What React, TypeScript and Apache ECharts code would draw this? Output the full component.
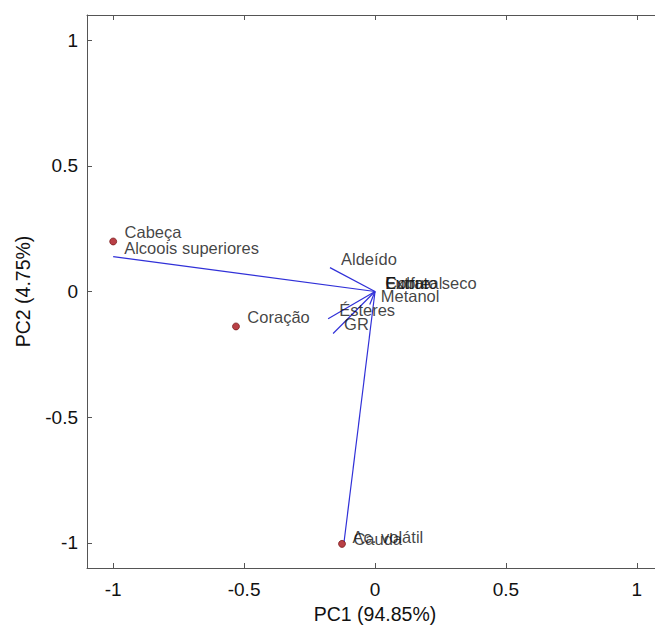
import React, { useEffect, useRef } from 'react';
import * as echarts from 'echarts';

// Observations (scores)
const obsNames = ['Cabeça', 'Coração', 'Cauda'];
const obsPC1 = [-1.0, -0.531, -0.126];
const obsPC2 = [0.199, -0.139, -1.004];

// Variables (loadings)
const varNames = ['Alcoois superiores', 'Aldeído', 'Ésteres', 'GR', 'Metanol', 'Cobre', 'Furfural', 'Extrato seco', 'Ac. volátil'];
const varPC1 = [-1.0, -0.172, -0.179, -0.16, -0.02, -0.003, -0.002, -0.004, -0.118];
const varPC2 = [0.139, 0.095, -0.108, -0.167, -0.052, -0.002, -0.003, -0.001, -0.995];

const xTicks = [-1, -0.5, 0, 0.5, 1];
const yTicks = [-1, -0.5, 0, 0.5, 1];
const xTitle = 'PC1 (94.85%)';
const yTitle = 'PC2 (4.75%)';

const FONT = '"Liberation Sans", Arial, sans-serif';
const BLUE = '#3030d8';
const FRAME = '#555555';
const TEXT = '#111111';

// label placement tweaks (style only)
const labelOffsets: Record<string, number[]> = {
  'Ac. volátil': [8, -4.5],
  Cauda: [7.5, -5],
};

export default function App() {
  const ref = useRef<HTMLDivElement>(null);

  useEffect(() => {
    if (!ref.current) return;
    const chart = echarts.init(ref.current, undefined, { renderer: 'svg' });

    const axisCommon = {
      type: 'value' as const,
      min: -1.1,
      max: 1.1,
      splitLine: { show: false },
      axisLine: { show: true, onZero: false, lineStyle: { color: FRAME, width: 1 } },
    };

    const vectorSeries = varNames.map((n, i) => ({
      type: 'line',
      name: n,
      data: [
        [0, 0],
        [varPC1[i], varPC2[i]],
      ],
      symbol: 'none',
      showSymbol: false,
      silent: true,
      z: 2,
      lineStyle: { color: BLUE, width: 1.2 },
    }));

    const withOffset = (n: string, value: number[]) =>
      labelOffsets[n] ? { name: n, value, label: { offset: labelOffsets[n] } } : { name: n, value };

    chart.setOption({
      animation: false,
      backgroundColor: '#ffffff',
      grid: { left: 87, top: 15, width: 576, height: 553, outerBoundsMode: 'none', containLabel: false },
      xAxis: [
        {
          ...axisCommon,
          position: 'bottom',
          name: xTitle,
          nameLocation: 'middle',
          nameGap: 31,
          nameTextStyle: { fontSize: 19.5, color: TEXT, fontFamily: FONT },
          axisTick: { show: true, inside: true, length: 5, customValues: xTicks, lineStyle: { color: FRAME } },
          axisLabel: { show: true, customValues: xTicks, margin: 12, fontSize: 19, color: TEXT, fontFamily: FONT },
        },
        {
          ...axisCommon,
          position: 'top',
          axisTick: { show: true, inside: true, length: 5, customValues: xTicks, lineStyle: { color: FRAME } },
          axisLabel: { show: false },
        },
      ],
      yAxis: [
        {
          ...axisCommon,
          position: 'left',
          name: yTitle,
          nameLocation: 'middle',
          nameGap: 54,
          nameRotate: 90,
          nameTextStyle: { fontSize: 19.5, color: TEXT, fontFamily: FONT },
          axisTick: { show: true, inside: true, length: 5, customValues: yTicks, lineStyle: { color: FRAME } },
          axisLabel: { show: true, customValues: yTicks, margin: 9, fontSize: 19, color: TEXT, fontFamily: FONT },
        },
        {
          ...axisCommon,
          position: 'right',
          axisTick: { show: true, inside: true, length: 5, customValues: yTicks, lineStyle: { color: FRAME } },
          axisLabel: { show: false },
        },
      ],
      series: [
        ...vectorSeries,
        {
          type: 'scatter',
          name: 'varLabels',
          silent: true,
          z: 3,
          symbolSize: 1,
          itemStyle: { color: 'transparent' },
          data: varNames.map((n, i) => withOffset(n, [varPC1[i], varPC2[i]])),
          label: {
            show: true,
            position: 'right',
            distance: 0,
            offset: [10.5, -9],
            formatter: '{b}',
            fontSize: 16.5,
            color: TEXT,
            fontFamily: FONT,
          },
        },
        {
          type: 'scatter',
          name: 'obs',
          silent: true,
          z: 4,
          symbolSize: 7,
          itemStyle: { color: '#a81018', borderColor: '#6a0808', borderWidth: 0.8 },
          data: obsNames.map((n, i) => withOffset(n, [obsPC1[i], obsPC2[i]])),
          label: {
            show: true,
            position: 'right',
            distance: 0,
            offset: [7.5, -9],
            formatter: '{b}',
            fontSize: 16.5,
            color: TEXT,
            fontFamily: FONT,
          },
        },
      ],
    });

    return () => chart.dispose();
  }, []);

  return (
    <div style={{ position: 'absolute', left: 0, top: 0, width: 655, height: 625, overflow: 'hidden', background: '#fff' }}>
      <div ref={ref} style={{ width: 680, height: 625 }} />
    </div>
  );
}
